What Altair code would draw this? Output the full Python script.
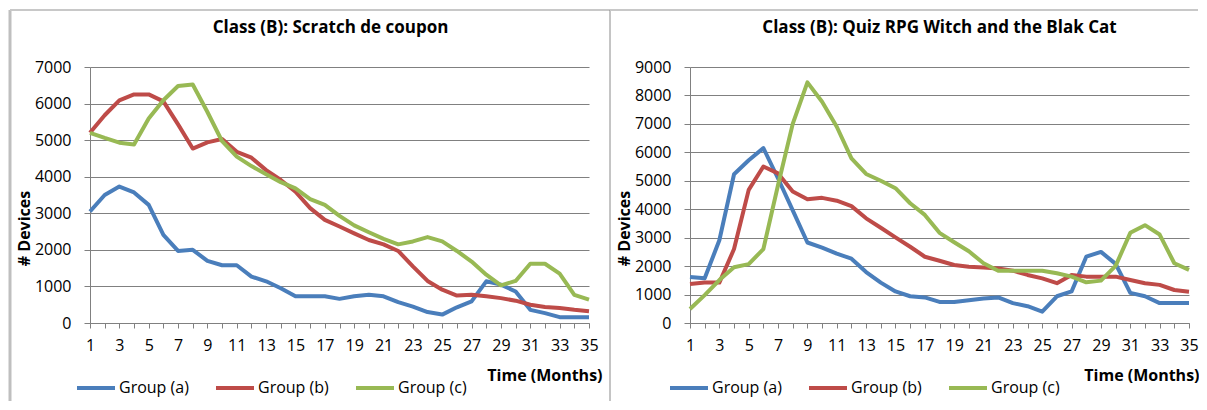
import altair as alt
import pandas as pd

months = list(range(1, 36))
series_names = ["Group (a)", "Group (b)", "Group (c)"]
colors = ["#4A7EBB", "#BE4B48", "#98B954"]

left_title = "Class (B): Scratch de coupon"
right_title = "Class (B): Quiz RPG Witch and the Blak Cat"
x_title = "Time (Months)"
y_title = "# Devices"

left_a = [3050, 3500, 3730, 3570, 3230, 2410, 1970, 2000, 1700, 1580, 1580, 1270, 1140, 950, 730,
          730, 730, 660, 730, 770, 730, 570, 450, 300, 230, 430, 590, 1140, 1050, 860, 360, 270, 160, 160, 160]
left_b = [5200, 5680, 6090, 6250, 6250, 6060, 5430, 4770, 4940, 5030, 4680, 4520, 4180, 3910, 3590,
          3140, 2820, 2640, 2450, 2270, 2150, 1970, 1550, 1150, 910, 750, 770, 730, 680, 610, 500, 440, 410, 360, 320]
left_c = [5200, 5060, 4930, 4880, 5590, 6090, 6480, 6520, 5770, 4970, 4550, 4290, 4070, 3850, 3680,
          3390, 3230, 2930, 2670, 2480, 2300, 2150, 2230, 2350, 2230, 1970, 1680, 1320, 1030, 1150, 1620, 1620, 1350, 770, 640]

right_a = [1620, 1570, 2910, 5230, 5720, 6150, 5080, 3960, 2830, 2650, 2440, 2260, 1790, 1420, 1110, 940,
           900, 740, 740, 800, 860, 900, 700, 590, 400, 940, 1110, 2330, 2500, 2080, 1060, 940, 700, 700, 700]
right_b = [1370, 1420, 1420, 2600, 4680, 5500, 5260, 4620, 4350, 4400, 4300, 4110, 3680, 3350, 3010, 2680,
           2330, 2190, 2040, 1980, 1950, 1920, 1840, 1690, 1570, 1400, 1690, 1630, 1630, 1630, 1510, 1400, 1340, 1160, 1100]
right_c = [490, 980, 1510, 1960, 2070, 2600, 4850, 7000, 8460, 7780, 6900, 5790, 5240, 5000, 4740, 4210,
           3800, 3170, 2840, 2520, 2100, 1840, 1840, 1840, 1840, 1750, 1630, 1430, 1490, 2010, 3170, 3440, 3110, 2100, 1870]

FONT = "Open Sans"
GRID = "#808080"


def panel(title, a, b, c, ymax, title_dx, legend_x, x_title_x, frame_left):
    df = pd.DataFrame({
        "Month": months * 3,
        "Devices": a + b + c,
        "Group": [s for s in series_names for _ in months],
    })
    lines = alt.Chart(df).mark_line(strokeWidth=4, strokeJoin="round").encode(
        x=alt.X("Month:Q",
                scale=alt.Scale(domain=[1, 35], nice=False, zero=False),
                axis=alt.Axis(values=months,
                              labelExpr="datum.value % 2 == 1 ? datum.label : ''",
                              title=x_title, titleX=x_title_x, titleY=52,
                              titleAlign="right", titleBaseline="middle",
                              grid=False, tickSize=5, labelPadding=9,
                              domainColor=GRID, tickColor=GRID,
                              labelFlush=False, labelOverlap=False)),
        y=alt.Y("Devices:Q",
                scale=alt.Scale(domain=[0, ymax], nice=False),
                axis=alt.Axis(values=list(range(0, ymax + 1, 1000)), format="d",
                              title=y_title, titleX=-66, titleY=161,
                              titleAngle=-90, titleAlign="center", titleBaseline="middle",
                              grid=True, gridColor=GRID, tickSize=6, labelPadding=13,
                              domainColor=GRID, tickColor=GRID)),
        color=alt.Color("Group:N",
                        scale=alt.Scale(domain=series_names, range=colors),
                        legend=alt.Legend(orient="none", legendX=legend_x, legendY=300,
                                          direction="horizontal", title=None,
                                          symbolType="stroke", symbolSize=1444,
                                          symbolStrokeWidth=4, labelOffset=2,
                                          columnPadding=19, padding=0)),
    )
    one = alt.Data(values=[{"k": 1}])
    frame = []
    if frame_left:
        frame.append(alt.Chart(one).mark_rule(color="#BFBFBF", strokeWidth=3).encode(
            x=alt.value(-80), y=alt.value(-57), y2=alt.value(334)))
        frame.append(alt.Chart(one).mark_rule(color="#C8C8C8", strokeWidth=2).encode(
            x=alt.value(-80), x2=alt.value(521), y=alt.value(-57)))
    else:
        frame.append(alt.Chart(one).mark_rule(color="#8A8A8A", strokeWidth=1).encode(
            x=alt.value(-80), y=alt.value(-57), y2=alt.value(334)))
        frame.append(alt.Chart(one).mark_rule(color="#C8C8C8", strokeWidth=2).encode(
            x=alt.value(-80), x2=alt.value(508), y=alt.value(-57)))
    return alt.layer(*frame, lines).properties(
        width=499, height=256,
        title=alt.TitleParams(title, font=FONT, fontSize=17, fontWeight="bold",
                              anchor="middle", dx=title_dx, dy=36, offset=0,
                              baseline="middle", color="black"),
    )


left = panel(left_title, left_a, left_b, left_c, 7000, -9, -15, 512, True)
right = panel(right_title, right_a, right_b, right_c, 9000, 0, -22, 509, False)

chart = alt.hconcat(left, right, spacing=101, bounds="flush").resolve_scale(
    color="independent"
).properties(
    padding={"left": 0, "top": 0, "right": 0, "bottom": 0}
).configure(
    font=FONT
).configure_axis(
    labelFont=FONT, titleFont=FONT, labelFontSize=16, titleFontSize=16,
    labelColor="black", titleColor="black", titleFontWeight="bold"
).configure_legend(
    labelFont=FONT, labelFontSize=16, labelColor="black"
).configure_view(
    stroke=None
)

chart.save("out.html", embed_options={"renderer": "svg", "actions": False})
